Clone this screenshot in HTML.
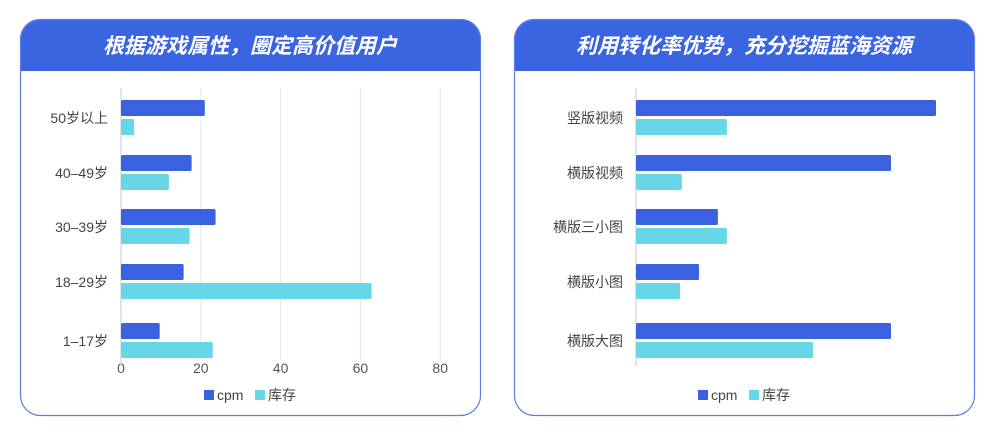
<!DOCTYPE html>
<html><head><meta charset="utf-8"><style>
body{margin:0;width:997px;height:436px;background:#fff;overflow:hidden;font-family:"Liberation Sans","Noto Sans CJK SC",sans-serif;}
svg text{font-family:"Liberation Sans","Noto Sans CJK SC",sans-serif;}
</style></head><body>
<svg id="c" width="997" height="436"></svg>
<script>
const leftCats=["50岁以上","40–49岁","30–39岁","18–29岁","1–17岁"];
const leftCpm=[21,17.7,23.7,15.7,9.7];
const leftStock=[3.3,12,17.2,62.8,23];
const leftTicks=[0,20,40,60,80];
const rightCats=["竖版视频","横版视频","横版三小图","横版小图","横版大图"];
const rightCpm=[100,85,27.3,21,85];
const rightStock=[30.3,15.3,30.3,14.7,59];
const groupY=[100,155,209,264,323];
const NS="http://www.w3.org/2000/svg";
const svg=document.getElementById('c');
function mk(t,a,p){const e=document.createElementNS(NS,t);for(const k in a)e.setAttribute(k,a[k]);(p||svg).appendChild(e);return e;}
function panel(px,title,cats,cpm,stock,x0,scale,ticks,key){
  const g=mk('g',{});
  
  
  const clip=mk('clipPath',{id:'cl'+key},g);
  mk('rect',{x:px,y:19,width:461,height:397,rx:20},clip);
  const hdr=mk('rect',{x:px,y:19,width:461,height:52,fill:'#3b64e0','clip-path':'url(#cl'+key+')'},g);
  
  
  const card=mk('rect',{x:px+0.5,y:19.5,width:460,height:396,rx:20,fill:'none',stroke:'#5b7fe2','stroke-width':1.2},g);
  
  
  const tt=mk('text',{x:px+230,y:53,'text-anchor':'middle',fill:'#fff','font-size':21,'font-weight':'bold','font-style':'italic'},g);
  tt.textContent=title;
  
  
  const X=v=>x0+v*scale;
  if(ticks){
    ticks.forEach(t=>{
      const l=mk('line',{x1:X(t),x2:X(t),y1:88,y2:360,stroke:'#e4e6ee','stroke-width':1},g);
      
      
      const tx=mk('text',{x:X(t),y:373,'text-anchor':'middle',fill:'#555','font-size':14},g);
      tx.textContent=t;
      
      
    });
  }
  const ax=mk('line',{x1:x0,x2:x0,y1:88,y2:366,stroke:'#d8dae2','stroke-width':1.5},g);
  
  
  cats.forEach((c,i)=>{
    const y=groupY[i];
    const b1=mk('rect',{x:x0,y:y,width:Math.max(0,X(cpm[i])-x0),height:16,rx:1.5,fill:'#3a62e0'},g);
    
    
    const b2=mk('rect',{x:x0,y:y+19,width:Math.max(0,X(stock[i])-x0),height:16,rx:1.5,fill:'#67d6e6'},g);
    
    
    const lb=mk('text',{x:x0-13,y:y+23,'text-anchor':'end',fill:'#444','font-size':14},g);
    lb.textContent=c;
    
    
  });
  const lx=px+184;
  const s1=mk('rect',{x:lx,y:390,width:10,height:10,fill:'#3a62e0'},g);
  
  
  const t1=mk('text',{x:lx+13,y:400,fill:'#444','font-size':14},g);
  t1.textContent='cpm';
  
  
  const s2=mk('rect',{x:lx+51,y:390,width:10,height:10,fill:'#67d6e6'},g);
  
  
  const t2=mk('text',{x:lx+64,y:400,fill:'#444','font-size':14},g);
  t2.textContent='库存';
  
  
}
panel(20,"根据游戏属性，圈定高价值用户",leftCats,leftCpm,leftStock,121,3.99,leftTicks,'left');
panel(514,"利用转化率优势，充分挖掘蓝海资源",rightCats,rightCpm,rightStock,636,3.0,null,'right');
</script>
</body></html>
